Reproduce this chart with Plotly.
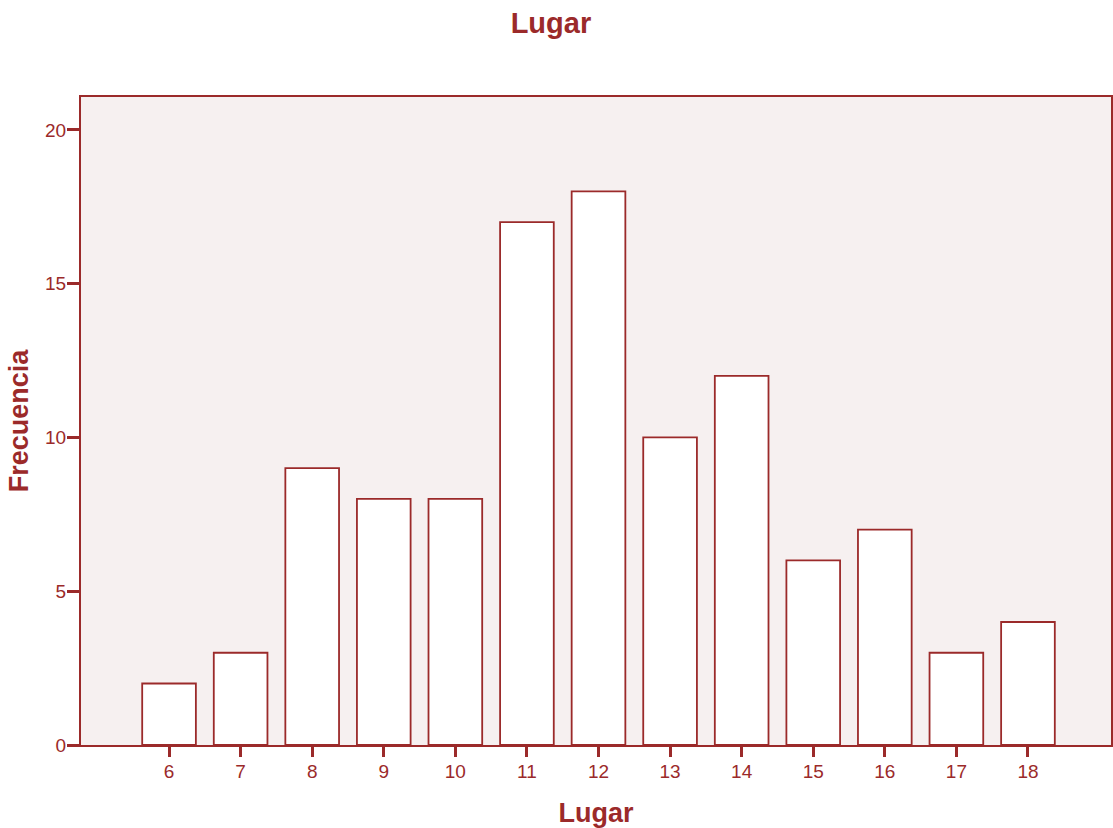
import plotly.graph_objects as go

categories = [6, 7, 8, 9, 10, 11, 12, 13, 14, 15, 16, 17, 18]
frequencies = [2, 3, 9, 8, 8, 17, 18, 10, 12, 6, 7, 3, 4]
y_ticks = [0, 5, 10, 15, 20]

RED = "#9b2a2a"
BG = "#f6f0f0"
FONT = "Liberation Sans, Arial, sans-serif"

fig = go.Figure(go.Bar(
    x=categories, y=frequencies, width=0.75,
    marker=dict(color="white", line=dict(color=RED, width=1.8)),
))

fig.update_layout(
    width=1113, height=828,
    margin=dict(l=81, r=0, t=97, b=83),
    paper_bgcolor="white", plot_bgcolor=BG,
    showlegend=False,
    title=dict(text="<b>Lugar</b>", x=0.495, xanchor="center", y=0.973, yanchor="middle",
               font=dict(family=FONT, size=29, color=RED)),
    font=dict(family=FONT, color=RED),
)
fig.update_xaxes(
    range=[4.77, 19.16], tickvals=categories, ticktext=[str(c) for c in categories],
    ticks="outside", ticklen=10, tickwidth=2.5, tickcolor=RED,
    ticklabelstandoff=-2,
    showline=True, linecolor=RED, linewidth=2, mirror=True,
    showgrid=False, zeroline=False,
    tickfont=dict(family=FONT, size=19, color=RED),
    title=dict(text="<b>Lugar</b>", font=dict(family=FONT, size=27, color=RED), standoff=24),
)
fig.update_yaxes(
    range=[0, 21.07], tickvals=y_ticks,
    ticks="outside", ticklen=12, tickwidth=2.5, tickcolor=RED,
    ticklabelstandoff=-3,
    showline=True, linecolor=RED, linewidth=2, mirror=True,
    showgrid=False, zeroline=False,
    tickfont=dict(family=FONT, size=19, color=RED),
    title=dict(text="<b>Frecuencia</b>", font=dict(family=FONT, size=27, color=RED), standoff=9),
)

fig.write_html("out.html", config={"displayModeBar": False},
               post_script="document.body.style.margin='0';document.body.style.overflow='hidden';")
